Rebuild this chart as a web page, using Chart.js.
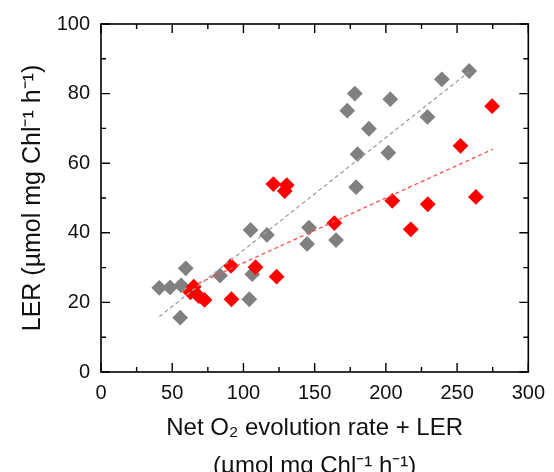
<!DOCTYPE html>
<html>
<head>
<meta charset="utf-8">
<script src="https://cdn.jsdelivr.net/npm/chart.js@4.4.1/dist/chart.umd.min.js"></script>
<style>
  html, body { margin: 0; padding: 0; background: #fff; }
  #wrap { width: 554px; height: 472px; }
</style>
</head>
<body>
<div id="wrap"><canvas id="chart"></canvas></div>
<script>
// gray series
const grayX = [40.9, 48.5, 56.3, 59.5, 55.6, 83.6, 105, 116.5, 106.2, 104.1, 146, 144.7, 165, 179.1, 180.1, 178.2, 172.9, 188.1, 203.1, 201.7, 229.2, 239.3, 258.5];
const grayY = [24.2, 24.3, 24.9, 29.8, 15.6, 27.7, 40.8, 39.4, 28.1, 20.9, 41.5, 36.8, 37.9, 53.1, 62.6, 80, 75.1, 69.9, 78.4, 63, 73.3, 84.1, 86.5];
// red series
const redX = [62.8, 65.1, 68.6, 72.7, 91.2, 91.6, 108.5, 121, 123.3, 129, 130.4, 163.8, 204.5, 217.5, 229.4, 252.4, 263.2, 274.6];
const redY = [22.9, 24.5, 21.8, 20.7, 30.5, 20.9, 30.1, 54, 27.4, 52, 53.7, 42.8, 49.2, 41, 48.2, 65, 50.3, 76.4];
// trend lines (end points)
const grayFitX = [40.9, 258.5];
const grayFitY = [15.9, 86.3];
const redFitX = [68, 275];
const redFitY = [25.4, 64];
// axes
const xTicks = [0, 50, 100, 150, 200, 250, 300];
const yTicks = [0, 20, 40, 60, 80, 100];

const pts = (xs, ys) => xs.map((x, i) => ({ x: x, y: ys[i] }));

// frame + inward ticks on all four sides
const framePlugin = {
  id: 'frame',
  afterDatasetsDraw(chart) {
    const { ctx, chartArea: a, scales } = chart;
    const xs = scales.x, ys = scales.y;
    ctx.save();
    ctx.strokeStyle = '#000';
    ctx.lineWidth = 1.6;
    ctx.strokeRect(a.left, a.top, a.right - a.left, a.bottom - a.top);
    ctx.lineWidth = 1.4;
    ctx.beginPath();
    const xv = [];
    xTicks.forEach((v, i) => {
      xv.push([v, 9]);
      if (i < xTicks.length - 1) xv.push([(v + xTicks[i + 1]) / 2, 5]);
    });
    xv.forEach(([v, len]) => {
      const px = xs.getPixelForValue(v);
      ctx.moveTo(px, a.bottom); ctx.lineTo(px, a.bottom - len);
      ctx.moveTo(px, a.top); ctx.lineTo(px, a.top + len);
    });
    const yv = [];
    yTicks.forEach((v, i) => {
      yv.push([v, 9]);
      if (i < yTicks.length - 1) yv.push([(v + yTicks[i + 1]) / 2, 5]);
    });
    yv.forEach(([v, len]) => {
      const py = ys.getPixelForValue(v);
      ctx.moveTo(a.left, py); ctx.lineTo(a.left + len, py);
      ctx.moveTo(a.right, py); ctx.lineTo(a.right - len, py);
    });
    ctx.stroke();
    ctx.restore();
  }
};

new Chart(document.getElementById('chart'), {
  type: 'scatter',
  data: {
    datasets: [
      {
        type: 'line', data: pts(grayFitX, grayFitY), borderColor: '#a0a0a0',
        borderWidth: 1.3, borderDash: [4, 3], pointRadius: 0, fill: false, order: 0
      },
      {
        type: 'line', data: pts(redFitX, redFitY), borderColor: '#ff4d4d',
        borderWidth: 1.3, borderDash: [4, 3], pointRadius: 0, fill: false, order: 0
      },
      {
        data: pts(redX, redY), backgroundColor: '#ff0000', borderColor: '#ff0000',
        pointStyle: 'rectRot', pointRadius: 7.9, borderWidth: 0, order: 1
      },
      {
        data: pts(grayX, grayY), backgroundColor: '#808080', borderColor: '#808080',
        pointStyle: 'rectRot', pointRadius: 7.9, borderWidth: 0, order: 2
      }
    ]
  },
  options: {
    responsive: true,
    maintainAspectRatio: false,
    animation: false,
    layout: { padding: { top: 24, right: 20, left: 0, bottom: 0 } },
    plugins: { legend: { display: false }, tooltip: { enabled: false } },
    scales: {
      x: {
        type: 'linear', min: 0, max: 300,
        afterBuildTicks: s => { s.ticks = xTicks.map(v => ({ value: v })); },
        afterFit: s => { s.height = 100; },
        grid: { display: false, drawTicks: false },
        border: { display: false },
        ticks: { color: '#111', padding: 9, maxRotation: 0, font: { family: 'Liberation Sans', size: 20 } },
        title: {
          display: true,
          text: ['Net O\u2082 evolution rate + LER', '(\u00b5mol mg Chl\u207b\u00b9 h\u207b\u00b9)'],
          color: '#111',
          font: { family: 'Liberation Sans', size: 24, lineHeight: 1.6 },
          padding: { top: 0, bottom: -14 }
        }
      },
      y: {
        type: 'linear', min: 0, max: 100,
        afterBuildTicks: s => { s.ticks = yTicks.map(v => ({ value: v })); },
        afterFit: s => { s.width = 101; },
        grid: { display: false, drawTicks: false },
        border: { display: false },
        ticks: { color: '#111', padding: 11, font: { family: 'Liberation Sans', size: 20 } },
        title: {
          display: true,
          text: 'LER (\u00b5mol mg Chl\u207b\u00b9 h\u207b\u00b9)',
          color: '#111',
          font: { family: 'Liberation Sans', size: 25, lineHeight: 1.2 },
          padding: { top: 18, bottom: 0 }
        }
      }
    }
  },
  plugins: [framePlugin]
});
</script>
</body>
</html>
